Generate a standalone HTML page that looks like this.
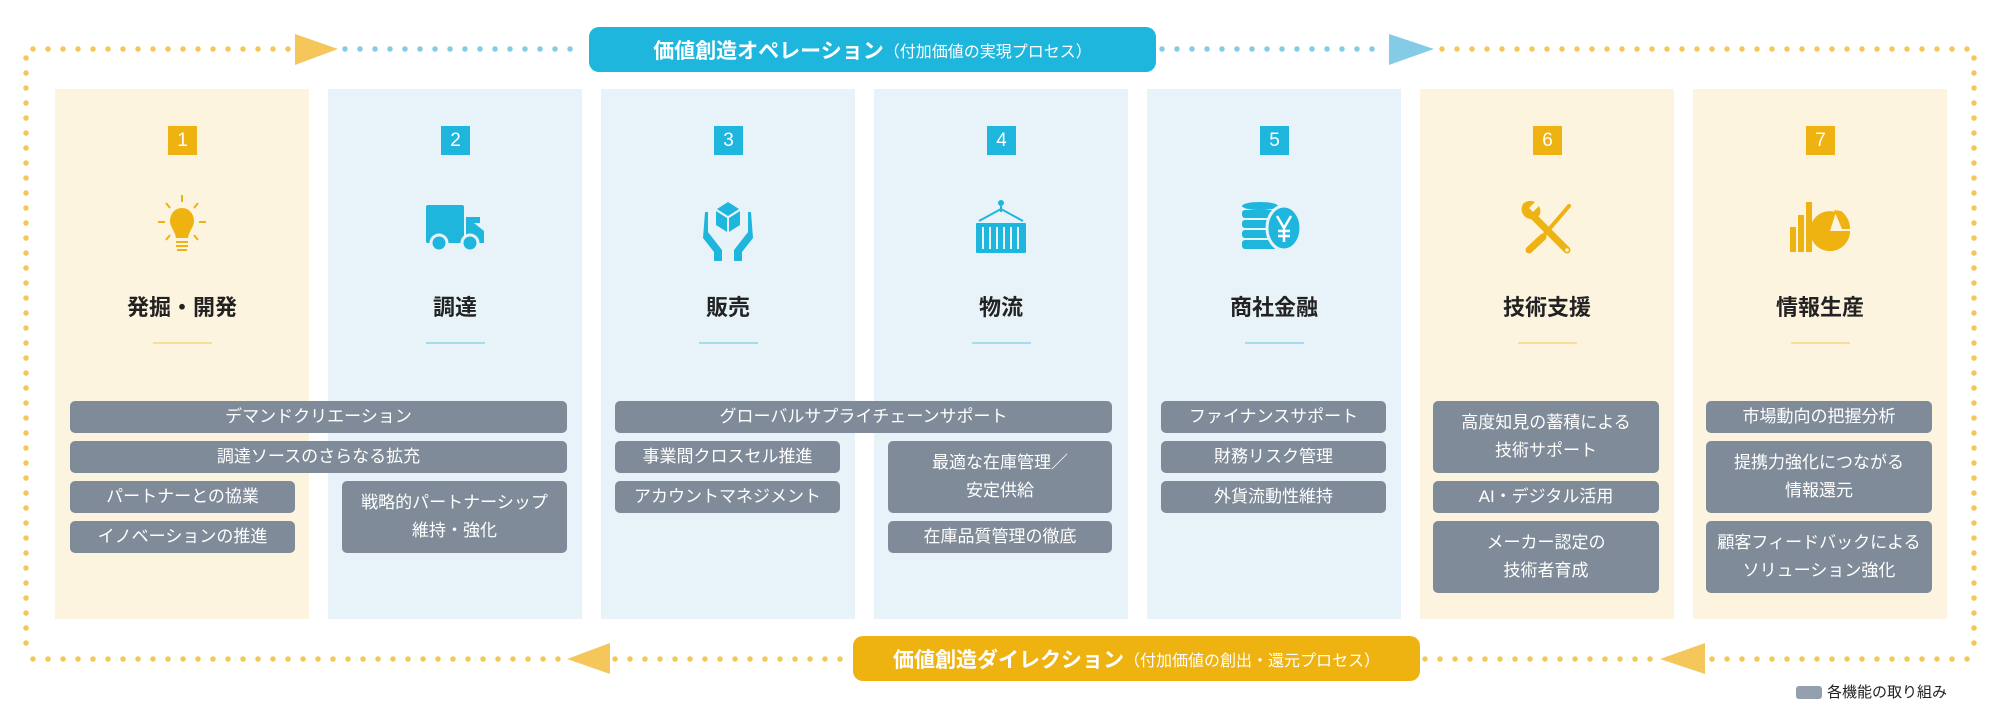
<!DOCTYPE html>
<html><head><meta charset="utf-8"><style>
*{margin:0;padding:0;box-sizing:border-box}
body{width:2000px;height:726px;background:#fff;position:relative;overflow:hidden;font-family:"Liberation Sans","Noto Sans CJK JP",sans-serif}
.col{position:absolute;top:89px;width:254px;height:530px}
.y{background:#fdf4e0}.b{background:#e8f3f9}
.badge{position:absolute;top:126px;width:29px;height:29px;color:#fff;font-size:19px;text-align:center;line-height:29px}
.by{background:#eeb211}.bb{background:#1eb6dd}
.title{position:absolute;top:294px;width:254px;text-align:center;font-size:22px;font-weight:bold;color:#222;line-height:28px}
.ul{position:absolute;top:342px;width:59px;height:2px}
.bar{position:absolute;background:#7f8b98;border-radius:5px;color:#fff;font-size:17px;text-align:center;display:flex;align-items:center;justify-content:center;line-height:28px}
.lbl{position:absolute;border-radius:10px;color:#fff;font-weight:bold;font-size:21px;display:flex;align-items:center;justify-content:center}
.lbl small{font-size:16px;font-weight:normal}
svg{position:absolute}
</style></head><body>
<svg width="2000" height="726" style="left:0;top:0">
<g stroke-linecap="round" stroke-width="5.5" fill="none" stroke-dasharray="0 15">
<line x1="33" y1="49" x2="290" y2="49" stroke="#f5c65a"/>
<line x1="345" y1="49" x2="582" y2="49" stroke="#84cce6"/>
<line x1="1162" y1="49" x2="1384" y2="49" stroke="#84cce6"/>
<line x1="1442" y1="49" x2="1970" y2="49" stroke="#f5c65a"/>
<line x1="1974" y1="58" x2="1974" y2="656" stroke="#f5c65a"/>
<line x1="26" y1="58" x2="26" y2="656" stroke="#f5c65a"/>
<line x1="33" y1="659" x2="562" y2="659" stroke="#f5c65a"/>
<line x1="615" y1="659" x2="848" y2="659" stroke="#f5c65a"/>
<line x1="1425" y1="659" x2="1655" y2="659" stroke="#f5c65a"/>
<line x1="1712" y1="659" x2="1970" y2="659" stroke="#f5c65a"/>
</g>
<polygon points="295,34 338,49 295,65" fill="#f5c65a"/>
<polygon points="1389,34 1434,49 1389,65" fill="#84cce6"/>
<polygon points="1705,643 1660,659 1705,674" fill="#f5c65a"/>
<polygon points="610,643 567,659 610,674" fill="#f5c65a"/>
</svg>
<div class="lbl" style="left:589px;top:27px;width:567px;height:45px;background:#1eb6dd">価値創造オペレーション<small>（付加価値の実現プロセス）</small></div>
<div class="lbl" style="left:853px;top:636px;width:567px;height:45px;background:#eeb211">価値創造ダイレクション<small>（付加価値の創出・還元プロセス）</small></div>

<div class="col y" style="left:55px"></div><div class="col b" style="left:328px"></div><div class="col b" style="left:601px"></div><div class="col b" style="left:874px"></div><div class="col b" style="left:1147px"></div><div class="col y" style="left:1420px"></div><div class="col y" style="left:1693px"></div>

<div class="badge by" style="left:168px">1</div><div class="badge bb" style="left:441px">2</div><div class="badge bb" style="left:714px">3</div><div class="badge bb" style="left:987px">4</div><div class="badge bb" style="left:1260px">5</div><div class="badge by" style="left:1533px">6</div><div class="badge by" style="left:1806px">7</div>

<div class="title" style="left:55px">発掘・開発</div><div class="title" style="left:328px">調達</div><div class="title" style="left:601px">販売</div><div class="title" style="left:874px">物流</div><div class="title" style="left:1147px">商社金融</div><div class="title" style="left:1420px">技術支援</div><div class="title" style="left:1693px">情報生産</div>

<div class="ul" style="left:153px;background:#f7dc9b"></div><div class="ul" style="left:426px;background:#a9d9ec"></div><div class="ul" style="left:699px;background:#a9d9ec"></div><div class="ul" style="left:972px;background:#a9d9ec"></div><div class="ul" style="left:1245px;background:#a9d9ec"></div><div class="ul" style="left:1518px;background:#f7dc9b"></div><div class="ul" style="left:1791px;background:#f7dc9b"></div>

<!-- icons -->
<svg width="60" height="64" style="left:152px;top:194px" viewBox="0 0 60 64">
<g stroke="#eeb211" stroke-width="2"><line x1="30" y1="1" x2="30" y2="8"/><line x1="14" y1="9" x2="18" y2="14"/><line x1="46" y1="9" x2="42" y2="14"/><line x1="6" y1="28" x2="13" y2="28"/><line x1="47" y1="28" x2="54" y2="28"/><line x1="14" y1="46" x2="18" y2="41"/><line x1="46" y1="46" x2="42" y2="41"/></g>
<path d="M30 14c-7 0-12 6-12 13 0 6 5 10 6 17h12c1-7 6-11 6-17 0-7-5-13-12-13z" fill="#eeb211"/>
<g stroke="#eeb211" stroke-width="2"><line x1="24" y1="48" x2="36" y2="48"/><line x1="24" y1="52" x2="36" y2="52"/><line x1="25" y1="56" x2="35" y2="56"/></g>
</svg>
<svg width="60" height="50" style="left:426px;top:205px" viewBox="0 0 60 50">
<rect x="0" y="0" width="38" height="38" rx="2" fill="#1eb6dd"/><path d="M40 12h14v6h-6l10 8v12H40z" fill="#1eb6dd"/>
<circle cx="13" cy="38" r="8" fill="#1eb6dd" stroke="#e8f3f9" stroke-width="3"/><circle cx="44" cy="38" r="8" fill="#1eb6dd" stroke="#e8f3f9" stroke-width="3"/>
</svg>
<svg width="60" height="60" style="left:698px;top:201px" viewBox="0 0 60 60">
<polygon points="30,1 41,8 30,15 19,8" fill="#1eb6dd"/><polygon points="18,10 29,17 29,31 18,24" fill="#1eb6dd"/><polygon points="42,10 31,17 31,31 42,24" fill="#1eb6dd"/>
<path d="M7 11h3v20l14 18v12h-8V51L5 37z" fill="#1eb6dd"/><path d="M53 11h-3v20L36 49v12h8V51l11-14z" fill="#1eb6dd"/>
</svg>
<svg width="60" height="60" style="left:971px;top:197px" viewBox="0 0 60 60">
<circle cx="30" cy="6" r="3" fill="#1eb6dd"/><path d="M30 9v6M8 24l22-12 22 12" stroke="#1eb6dd" stroke-width="2" fill="none"/>
<rect x="5" y="26" width="50" height="30" rx="1" fill="#1eb6dd"/>
<g stroke="#e8f3f9" stroke-width="2"><line x1="12" y1="30" x2="12" y2="52"/><line x1="19" y1="30" x2="19" y2="52"/><line x1="26" y1="30" x2="26" y2="52"/><line x1="33" y1="30" x2="33" y2="52"/><line x1="40" y1="30" x2="40" y2="52"/><line x1="47" y1="30" x2="47" y2="52"/></g>
</svg>
<svg width="64" height="52" style="left:1240px;top:202px" viewBox="0 0 64 52">
<g fill="#1eb6dd"><ellipse cx="20" cy="4" rx="18" ry="4"/><rect x="2" y="8" width="36" height="8" rx="3"/><rect x="2" y="18" width="36" height="8" rx="3"/><rect x="2" y="28" width="36" height="8" rx="3"/><rect x="2" y="38" width="36" height="9" rx="3"/></g>
<ellipse cx="44" cy="26" rx="17" ry="22" fill="#1eb6dd" stroke="#e8f3f9" stroke-width="3"/>
<path d="M37 14l7 12 7-12M44 26v14M38 29h12M38 34h12" stroke="#fff" stroke-width="2.5" fill="none"/>
</svg>
<!-- tools -->
<svg width="56" height="56" style="left:1519px;top:200px" viewBox="0 0 56 56">
<g stroke="#eeb211" stroke-linecap="round" fill="none">
<line x1="50" y1="6" x2="26" y2="34" stroke-width="4"/>
<line x1="24" y1="37" x2="10" y2="50" stroke-width="7"/>
<line x1="14" y1="16" x2="48" y2="50" stroke-width="7"/>
</g>
<path d="M4 4a10 10 0 0 0 4 14a10 10 0 0 0 12-2a10 10 0 0 0 0-10l-6 6-4-4 6-6a10 10 0 0 0-12 2z" fill="#eeb211"/>
<circle cx="48" cy="50" r="1.8" fill="#fdf4e0"/>
</svg>
<!-- chart -->
<svg width="64" height="56" style="left:1788px;top:200px" viewBox="0 0 64 56">
<g fill="#eeb211"><rect x="2" y="27" width="6" height="25"/><rect x="10" y="15" width="6" height="37"/><rect x="18" y="2" width="6" height="50"/></g>
<path d="M46 31 L52 12 A20 20 0 1 0 66 31 Z" fill="#eeb211" transform="translate(-4,0)"/>
<path d="M48 11 L56 30 L64 30 A22 22 0 0 0 55 12 Z" fill="#eeb211" transform="translate(-2,-1)"/>
</svg>

<!-- bars -->
<div class="bar" style="left:70px;top:401px;width:497px;height:32px">デマンドクリエーション</div>
<div class="bar" style="left:70px;top:441px;width:497px;height:32px">調達ソースのさらなる拡充</div>
<div class="bar" style="left:70px;top:481px;width:225px;height:32px">パートナーとの協業</div>
<div class="bar" style="left:70px;top:521px;width:225px;height:32px">イノベーションの推進</div>
<div class="bar" style="left:342px;top:481px;width:225px;height:72px">戦略的パートナーシップ<br>維持・強化</div>

<div class="bar" style="left:615px;top:401px;width:497px;height:32px">グローバルサプライチェーンサポート</div>
<div class="bar" style="left:615px;top:441px;width:225px;height:32px">事業間クロスセル推進</div>
<div class="bar" style="left:615px;top:481px;width:225px;height:32px">アカウントマネジメント</div>
<div class="bar" style="left:888px;top:441px;width:224px;height:72px">最適な在庫管理／<br>安定供給</div>
<div class="bar" style="left:888px;top:521px;width:224px;height:32px">在庫品質管理の徹底</div>

<div class="bar" style="left:1161px;top:401px;width:225px;height:32px">ファイナンスサポート</div>
<div class="bar" style="left:1161px;top:441px;width:225px;height:32px">財務リスク管理</div>
<div class="bar" style="left:1161px;top:481px;width:225px;height:32px">外貨流動性維持</div>

<div class="bar" style="left:1433px;top:401px;width:226px;height:72px">高度知見の蓄積による<br>技術サポート</div>
<div class="bar" style="left:1433px;top:481px;width:226px;height:32px">AI・デジタル活用</div>
<div class="bar" style="left:1433px;top:521px;width:226px;height:72px">メーカー認定の<br>技術者育成</div>

<div class="bar" style="left:1706px;top:401px;width:226px;height:32px">市場動向の把握分析</div>
<div class="bar" style="left:1706px;top:441px;width:226px;height:72px">提携力強化につながる<br>情報還元</div>
<div class="bar" style="left:1706px;top:521px;width:226px;height:72px">顧客フィードバックによる<br>ソリューション強化</div>

<div style="position:absolute;left:1796px;top:686px;width:26px;height:13px;border-radius:3px;background:#94a0ad"></div>
<div style="position:absolute;left:1827px;top:683px;font-size:15px;color:#222;line-height:20px">各機能の取り組み</div>
</body></html>
